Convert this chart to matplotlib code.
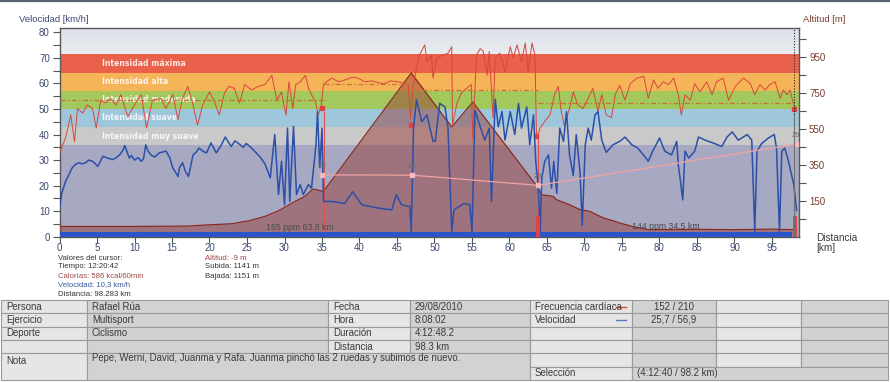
import numpy as np
import matplotlib
matplotlib.use('Agg')
import matplotlib.pyplot as plt
from matplotlib.patches import Rectangle
from matplotlib.lines import Line2D
from matplotlib.colors import LinearSegmentedColormap

plt.rcParams['font.family'] = ['Liberation Sans', 'DejaVu Sans']

# ---------------- data ----------------
vel_km = [0, 0.3, 0.8, 1.7, 2.1, 2.6, 3.0, 3.5, 3.9, 4.4,
          4.7, 5.1, 5.8, 6.4, 7.1, 7.6, 8.0, 8.4, 8.7, 9.3,
          9.6, 10.0, 10.5, 10.9, 11.2, 11.5, 11.8, 12.2, 12.7, 13.3,
          13.8, 14.2, 14.7, 15.1, 15.8, 16.0, 16.4, 16.8, 17.2, 17.8,
          18.2, 18.6, 19.1, 19.6, 20.2, 20.9, 21.5, 22.1, 22.9, 23.4,
          24.0, 24.5, 24.9, 25.5, 26.3, 26.8, 27.4,
          28.1, 28.7, 29.2, 29.6, 30.0, 30.4, 30.7, 31.2, 31.6, 32.1,
          32.5, 33.2, 33.6, 34.2, 34.4, 34.7, 35.0, 35.2, 36.3, 38.0, 39.1, 40.3, 42.5, 44.3,
          44.9, 45.6, 46.7, 46.9, 47.2, 47.6, 48.3, 49.0, 49.4, 49.8, 50.1, 50.7, 51.4, 51.8,
          52.3, 52.6, 53.9, 54.7, 55.0, 55.4, 56.1, 56.7, 57.3, 57.6, 58.1, 58.5, 59.0, 59.4,
          60.1, 60.7, 61.2, 61.6, 62.3, 62.7, 63.2, 63.5, 63.8, 64.1, 64.3, 64.7, 65.2, 65.6,
          65.9, 66.3, 66.7, 67.2, 67.6, 68.0, 68.5, 68.9, 69.4, 69.7, 70.1, 70.5, 70.9, 71.4,
          71.8, 72.3, 72.9, 73.8, 74.7, 75.4, 76.3, 77.1, 78.0, 78.5, 79.1, 80.0, 80.7, 81.6,
          82.3, 82.5, 82.8, 83.1, 83.4, 83.9, 84.7, 85.2, 86.1, 87.4, 88.3, 89.0, 89.7, 90.5,
          91.7, 92.3, 92.7, 93.0, 93.6, 94.5, 95.3, 95.6, 96.0, 96.3, 96.7, 97.2, 97.6, 97.9,
          98.28]
vel_kmh = [11, 17, 21.6, 27, 28.2, 29, 28.5, 29, 30, 29.5,
           28.8, 27.5, 31.5, 30.8, 30.2, 31, 32, 33.5, 35.7, 30.8,
           31.8, 30, 31, 29.5, 30.5, 36, 33.5, 32, 31.2, 32.8,
           33.2, 33.5, 31, 27, 23.6, 27, 29, 25.5, 23.6, 32,
           33, 34.7, 33.5, 32.8, 36.7, 32.8, 35.5, 39, 35.3, 37.5,
           36.2, 35, 36.5, 35, 32.6, 31, 28.5,
           23, 40, 16.5, 29.5, 12.5, 42.5, 13.8, 43.2, 16.5, 20.4,
           16.5, 20.4, 19, 36, 49, 27, 42.5, 13.8, 13.8, 13, 17.6, 12.5, 11.2, 10.5,
           16.5, 12.5, 11.8, 2, 42.5, 53.6, 45, 47.7, 42.5, 37.3, 37.3, 52.2, 50.8, 42.5,
           2, 10.5, 13, 12.5, 2, 49.5, 43, 37.8, 42.5, 13.8, 53.8, 43, 49, 37.8,
           49, 40, 52.2, 42.5, 50.8, 36, 47.7, 29.5, 20.4, 2, 23, 29.5, 32, 19,
           29.5, 17, 42.5, 37.3, 49, 32, 24, 40, 25.5, 4.5, 36, 42.5, 37.8, 47.7,
           49, 37.8, 33, 36, 37.3, 39, 36, 34.7, 31.5, 29.5, 33.5, 38.6, 33.5, 32,
           37.3, 28.2, 21.6, 14.4, 33.5, 30.8, 33.5, 39, 37.8, 36.4, 35.3, 39, 41, 37.8,
           40, 37.8, 2, 33.5, 36.4, 38.6, 40, 34.7, 2, 33.5, 34.7, 29.5, 24.4, 20.4,
           10.3]

hr_km = [0, 0.8, 1.5, 2.0, 2.4, 3.1, 3.7, 4.4, 4.9, 5.5, 6.2, 6.8, 7.5, 8.2, 9.1, 10.0,
         10.9, 11.6, 12.4, 13.5, 14.2, 15.1, 15.8, 16.4, 17.1, 17.8, 18.4, 19.1, 20.0, 20.6,
         21.3, 22.0, 22.6, 23.3, 24.0, 24.7, 25.6, 26.5, 27.4, 28.3, 29.0, 29.6, 30.2, 30.6,
         31.1, 31.5, 32.1, 32.8, 33.2, 33.6, 34.1, 34.5, 34.9, 35.2, 35.6, 36.3, 37.2, 38.1,
         39.0, 39.8, 40.7, 41.6, 42.5, 43.3, 44.2, 45.1, 46.5, 46.8, 47.2, 47.6, 48.0, 48.7,
         49.0, 49.6, 49.8, 50.3, 51.2, 51.8, 52.3, 52.4, 53.0, 53.6, 54.3, 54.9, 55.1, 55.6,
         56.1, 56.5, 57.0, 57.3, 57.8, 58.1, 58.7, 59.4, 60.1, 60.5, 61.0, 61.6, 62.1, 62.5,
         63.0, 63.4, 63.6, 64.1, 64.7, 65.4, 66.0, 66.5, 66.9, 67.3, 68.0, 68.5, 69.1, 69.8,
         70.5, 71.1, 71.8, 72.3, 72.9, 73.6, 74.1, 74.7, 75.4, 76.1, 77.0, 77.9, 78.5, 79.2,
         79.8, 80.5, 81.2, 81.9, 82.5, 82.9, 83.4, 84.1, 84.7, 85.4, 86.3, 87.0, 87.6, 88.5,
         89.2, 90.1, 91.2, 92.1, 92.7, 93.4, 94.1, 94.7, 95.4, 96.1, 96.5, 97.0, 97.4, 97.9,
         98.28]
hr_bpm = [91, 107, 132, 103, 139, 134, 143, 139, 118, 148, 145, 150, 143, 154, 130, 143,
          154, 118, 148, 150, 139, 154, 127, 150, 163, 143, 121, 143, 157, 148,
          132, 156, 163, 161, 145, 165, 159, 163, 165, 175, 148, 157, 132, 168,
          139, 165, 168, 175, 161, 154, 147, 132, 143, 165, 168, 172, 168, 170,
          173, 172, 168, 169, 167, 166, 169, 168, 165, 129, 165, 183, 197, 208,
          190, 197, 172, 194, 197, 199, 206, 121, 145, 156, 161, 165, 107, 197,
          204, 201, 175, 201, 129, 194, 199, 179, 206, 194, 208, 190, 210, 179,
          210, 197, 107, 118, 125, 132, 154, 163, 136, 121, 139, 157, 143, 139,
          150, 161, 136, 154, 132, 129, 154, 164, 148, 166, 172, 174, 150, 170,
          161, 168, 165, 172, 154, 132, 154, 148, 166, 157, 168, 154, 168, 172,
          148, 163, 172, 166, 154, 165, 159, 165, 168, 150, 159, 154, 159, 143,
          139]

alt_km = [0, 10, 17, 20, 23, 25.3, 27.4, 29.2, 31.4, 32.7, 33.8, 35.2, 46.9, 52.3, 55.1,
          63.5, 64.3, 65.8, 66.3, 68.0, 69.4, 70.7, 72.5, 74.1, 74.7, 76.8, 78.5, 85, 90,
          95, 98.28]
alt_m = [10, 10, 12, 19, 25, 42, 66, 97, 149, 177, 218, 205, 862, 562, 701,
         242, 186, 177, 158, 131, 103, 94, 57, 38, 29, 5, -8, -6, -8,
         -5, -9]

zone_bpm = [99, 119, 139, 158, 178, 198]
zone_names = ['Intensidad muy suave', 'Intensidad suave', 'Intensidad moderada',
              'Intensidad alta', 'Intensidad máxima']
zone_colors = ['#c9c9c9', '#9fc7dc', '#a3c85c', '#f4b457', '#e9604b']

lap_start = [0, 35.2, 46.9, 63.8]
lap_end = [35.2, 46.9, 63.8, 98.28]
lap_hr_avg = [148, 166, 159, 145]
lap_km = [35.0, 47.0, 63.8, 98.2]
lap_speed = [24.2, 24.1, 20.1, 36.2]
lap_labels = ['28', '26', '25', '29']
hrmark_km = [35.0, 46.9, 63.5, 97.9]
hrmark_bpm = [140, 121, 109, 138]

x_ticks = list(range(0, 100, 5))
v_ticks = list(range(0, 90, 10))
v_minor = list(range(5, 80, 10))
alt_ticks = [150, 350, 550, 750, 950]
alt_minor = [50, 250, 450, 650, 850, 1050]

cursor_lines = ['Valores del cursor:', 'Tiempo: 12:20:42', 'Calorías: 586 kcal/60min',
                'Velocidad: 10,3 km/h', 'Distancia: 98.283 km']
cursor_colors = ['#333333', '#333333', '#a04848', '#3a5aa0', '#333333']
cursor_lines2 = ['Altitud: -9 m', 'Subida: 1141 m', 'Bajada: 1151 m']
cursor_colors2 = ['#a04848', '#333333', '#333333']

info_labels = ['Persona', 'Ejercicio', 'Deporte', '']
info_values = ['Rafael Rúa', 'Multisport', 'Ciclismo', '']
date_labels = ['Fecha', 'Hora', 'Duración', 'Distancia']
date_values = ['29/08/2010', '8:08:02', '4:12:48.2', '98.3 km']
series_names = ['Frecuencia cardíaca', 'Velocidad']
series_stats = ['152 / 210', '25,7 / 56,9']
series_colors = ['#d8463a', '#5a78c0']
note_text = 'Pepe, Werni, David, Juanma y Rafa. Juanma pinchó las 2 ruedas y subimos de nuevo.'
selection_text = '(4:12:40 / 98.2 km)'

# ---------------- layout ----------------
W, H = 890, 382
XMAX = 98.64
VMAX = 81.7
HR_PER_V = 2.77
ALT_LIM = (-47, 1112)

fig = plt.figure(figsize=(W / 100, H / 100), dpi=100)
fig.patch.set_facecolor('white')

def fx(x):
    return x / W

def fy(y):
    return 1 - y / H

rect = [fx(59.5), fy(236.7), (799.3 - 59.5) / W, (236.7 - 28) / H]
axb = fig.add_axes(rect)
axb.set_facecolor('#a6a9c1')
grad = LinearSegmentedColormap.from_list('g', ['#e9ecf0', '#dce2e9'])
axb.imshow(np.linspace(0, 1, 64).reshape(-1, 1), extent=[0, XMAX, zone_bpm[-1], VMAX * HR_PER_V],
           cmap=grad, aspect='auto', origin='lower', zorder=0)
for i in range(len(zone_names)):
    axb.axhspan(zone_bpm[i], zone_bpm[i + 1], color=zone_colors[i], lw=0, zorder=1)
    axb.text(5.65, (zone_bpm[i] + zone_bpm[i + 1]) / 2, zone_names[i], family='DejaVu Sans',
             fontweight='bold', fontsize=5.6, color='white', alpha=0.85, va='center', ha='left',
             zorder=2)
axb.set_xlim(0, XMAX)
axb.set_ylim(0, VMAX * HR_PER_V)
axb.set_yticks([])
axb.set_xticks(x_ticks)
axb.tick_params(axis='x', direction='out', length=4, width=0.8, color='#555555',
                labelsize=7, labelcolor='#3c4a6e', pad=0.5)
for s in axb.spines.values():
    s.set_color('#5a5a5a')
    s.set_linewidth(1.0)

# altitude
ax_alt = axb.twinx()
ax_alt.fill_between(alt_km, ALT_LIM[0], alt_m, color='#993a33', alpha=0.48, lw=0)
ax_alt.plot(alt_km, alt_m, color='#8b2a22', lw=0.9)
ax_alt.set_ylim(*ALT_LIM)
ax_alt.set_yticks(alt_ticks)
ax_alt.set_yticks(alt_minor, minor=True)
ax_alt.tick_params(axis='y', which='both', direction='out', length=5, width=0.8,
                   color='#555555', labelsize=7, labelcolor='#7a3b2e', pad=2)
for s in ax_alt.spines.values():
    s.set_visible(False)

# heart rate
ax_hr = axb.twinx()
ax_hr.plot(hr_km, hr_bpm, color='#d8463a', lw=0.7)
for s0, s1, a in zip(lap_start, lap_end, lap_hr_avg):
    ax_hr.plot([s0, s1], [a, a], color='#c8703a', lw=0.9, dashes=[4, 2, 1, 2])
ax_hr.plot(hrmark_km, hrmark_bpm, 's', ms=2.8, color='#e04040')
ax_hr.set_ylim(0, VMAX * HR_PER_V)
ax_hr.set_yticks([])
for s in ax_hr.spines.values():
    s.set_visible(False)

# velocity
ax_v = axb.twinx()
ax_v.yaxis.tick_left()
ax_v.plot(vel_km, vel_kmh, color='#2c4fa8', lw=1.1, zorder=3)
ax_v.fill_between([0, 97.7], 0, 1.9, color='#2b56c6', lw=0, zorder=4)
ax_v.plot([35.2, 35.2], [0, 49], color='#e05050', lw=0.8, zorder=2)
ax_v.plot([63.8, 63.8], [0, 39], color='#e05050', lw=0.8, zorder=2)
ax_v.fill_between([63.55, 64.05], 0, 8, color='#e84040', lw=0, zorder=5)
ax_v.fill_between([97.75, 98.3], 0, 8, color='#e84040', lw=0, zorder=5)
ax_v.plot([97.95, 97.95], [0, 48], color='#707070', lw=0.8, zorder=5)
ax_v.plot([97.95, 97.95], [48, VMAX], color='#222222', lw=0.8, ls=(0, (1, 1.5)), zorder=5)
ax_v.plot(lap_km, lap_speed, color='#f2a4a4', lw=0.9, marker='s', ms=3,
          mfc='#f6b8b8', mec='#f6b8b8', zorder=4)
for k, s, lab in zip(lap_km, lap_speed, lap_labels):
    ax_v.text(k, s + 2.2, lab, fontsize=5.5, color='#6a6a6a', ha='center', va='bottom', zorder=6)
ax_v.text(27.6, 3.5, '155 ppm 63.8 km', fontsize=6.3, color='#4a4a4a', va='center', zorder=6)
ax_v.text(76.4, 3.8, '144 ppm 34.5 km', fontsize=6.3, color='#4a4a4a', va='center', zorder=6)
ax_v.set_xlim(0, XMAX)
ax_v.set_ylim(0, VMAX)
ax_v.set_yticks(v_ticks)
ax_v.set_yticks(v_minor, minor=True)
ax_v.tick_params(axis='y', which='both', direction='out', length=5, width=0.8,
                 color='#555555', labelsize=7, labelcolor='#3c4a6e', pad=2,
                 left=True, labelleft=True, right=False, labelright=False)
for s in ax_v.spines.values():
    s.set_visible(False)

# axis titles
fig.text(fx(19), fy(19), 'Velocidad [km/h]', fontsize=6.8, color='#3c4a6e', va='center', ha='left')
fig.text(fx(803), fy(19), 'Altitud [m]', fontsize=6.8, color='#7a3b2e', va='center', ha='left')
fig.text(fx(816), fy(243), 'Distancia\n[km]', fontsize=7.2, color='#3a3a3a', va='center',
         ha='left', linespacing=1.0)

# top border
fig.add_artist(Line2D([0, 1], [fy(0.8), fy(0.8)], color='#5a6272', lw=1.6,
                      transform=fig.transFigure))

# cursor block
for i, (t, c) in enumerate(zip(cursor_lines, cursor_colors)):
    fig.text(fx(58), fy(258 + 9.0 * i), t, fontsize=5.6, color=c, va='center', ha='left')
for i, (t, c) in enumerate(zip(cursor_lines2, cursor_colors2)):
    fig.text(fx(205), fy(258 + 9.0 * i), t, fontsize=5.6, color=c, va='center', ha='left')

# ---------------- table ----------------
row_y = [300, 313.3, 326.7, 340, 353.3, 366.7, 380]
col_x = [1, 87, 328, 410, 530, 632, 716, 801, 888]
light, dark = '#e6e6e6', '#d2d2d2'
col_fc = [light, dark, light, dark, light, dark, light, dark]

def cell(c0, c1, r0, r1, fc, text='', align='left', color='#3a3a3a', vy=None):
    x0, x1 = col_x[c0], col_x[c1]
    y0, y1 = row_y[r0], row_y[r1]
    fig.add_artist(Rectangle((fx(x0), fy(y1)), (x1 - x0) / W, (y1 - y0) / H,
                             transform=fig.transFigure, facecolor=fc,
                             edgecolor='#9a9a9a', lw=0.8))
    if text:
        yy = (y0 + y1) / 2 if vy is None else vy
        if align == 'left':
            fig.text(fx(x0 + 5), fy(yy), text, ha='left', fontsize=6.9, color=color, va='center')
        else:
            fig.text(fx((x0 + x1) / 2), fy(yy), text, ha='center', fontsize=6.9, color=color,
                     va='center')

for r in range(4):
    cell(0, 1, r, r + 1, col_fc[0], info_labels[r])
    cell(1, 2, r, r + 1, col_fc[1], info_values[r])
    cell(2, 3, r, r + 1, col_fc[2], date_labels[r])
    cell(3, 4, r, r + 1, col_fc[3], date_values[r])
    if r < len(series_names):
        cell(4, 5, r, r + 1, col_fc[4], series_names[r])
        cell(5, 6, r, r + 1, col_fc[5], series_stats[r], align='center')
    else:
        cell(4, 5, r, r + 1, col_fc[4])
        cell(5, 6, r, r + 1, col_fc[5])
    cell(6, 7, r, r + 1, col_fc[6])
    cell(7, 8, r, r + 1, col_fc[7])
cell(0, 1, 4, 6, col_fc[0], 'Nota', vy=361)
cell(1, 4, 4, 6, dark, note_text, vy=358)
cell(4, 5, 4, 5, col_fc[4])
cell(5, 6, 4, 5, col_fc[5])
cell(6, 7, 4, 5, col_fc[6])
cell(7, 8, 4, 5, col_fc[7])
cell(4, 5, 5, 6, col_fc[4], 'Selección')
cell(5, 8, 5, 6, dark, selection_text)

for r, c in enumerate(series_colors):
    yy = (row_y[r] + row_y[r + 1]) / 2
    fig.add_artist(Line2D([fx(616), fx(626)], [fy(yy), fy(yy)], color=c, lw=1.0,
                          transform=fig.transFigure))

fig.savefig('out.png', dpi=100)
